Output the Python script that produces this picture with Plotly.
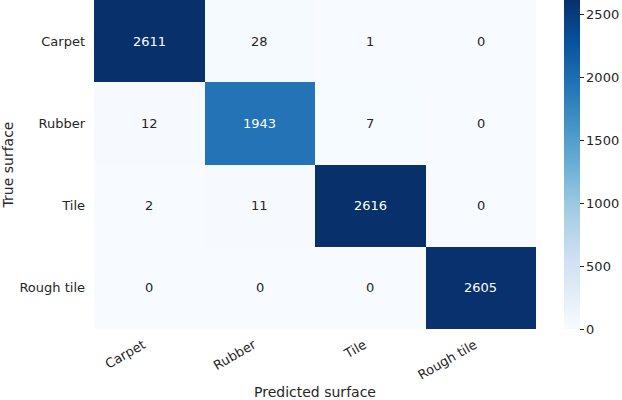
import numpy as np
import plotly.graph_objects as go

# confusion matrix (rows = true, cols = predicted)
labels = ["Carpet", "Rubber", "Tile", "Rough tile"]
carpet_row = [2611, 28, 1, 0]
rubber_row = [12, 1943, 7, 0]
tile_row = [2, 11, 2616, 0]
rough_row = [0, 0, 0, 2605]
cbar_ticks = [0, 500, 1000, 1500, 2000, 2500]

z = np.array([carpet_row, rubber_row, tile_row, rough_row])

# matplotlib "Blues"
blues = ["#f7fbff", "#deebf7", "#c6dbef", "#9ecae1", "#6baed6",
         "#4292c6", "#2171b5", "#08519c", "#08306b"]
colorscale = [[i / (len(blues) - 1), c] for i, c in enumerate(blues)]

FONT = "DejaVu Sans"
TXT = "#262626"

fig = go.Figure(go.Heatmap(
    z=z, x=labels, y=labels,
    colorscale=colorscale, zmin=0, zmax=z.max(),
    xgap=0, ygap=0,
    colorbar=dict(
        thickness=16, x=1.063, xanchor="left", xpad=0, ypad=0,
        lenmode="pixels", len=329, y=1, yanchor="top",
        outlinewidth=0, tickvals=cbar_ticks,
        ticks="outside", ticklen=4, tickcolor=TXT,
        tickfont=dict(family=FONT, size=13, color=TXT),
    ),
    hoverinfo="skip",
))

zmax = z.max()
for r, row_label in enumerate(labels):
    for c, col_label in enumerate(labels):
        v = z[r, c]
        fig.add_annotation(
            x=col_label, y=row_label, text=str(v), showarrow=False,
            font=dict(family=FONT, size=13,
                      color="white" if v > 0.55 * zmax else TXT),
        )

fig.update_xaxes(
    title=dict(text="Predicted surface", font=dict(family=FONT, size=14, color=TXT), standoff=6),
    tickangle=-30, tickfont=dict(family=FONT, size=13, color=TXT),
    ticklabelshift=-6, ticklabelstandoff=5,
    showgrid=False, zeroline=False, showline=False, ticks="", automargin=False,
)
fig.update_yaxes(
    title=dict(text="True surface", font=dict(family=FONT, size=14, color=TXT), standoff=8),
    autorange="reversed", tickfont=dict(family=FONT, size=13, color=TXT),
    showgrid=False, zeroline=False, showline=False, ticks="", ticklabelstandoff=8,
    automargin=False,
)
fig.update_layout(
    width=622, height=400,
    margin=dict(l=94, r=86, t=0, b=71, autoexpand=False),
    paper_bgcolor="white", plot_bgcolor="white",
    font=dict(family=FONT, color=TXT),
)
# drop the browser's default page margin so the figure sits at the top-left corner
fig.write_html("out.html", config={"displayModeBar": False},
               post_script="document.body.style.margin='0';")
